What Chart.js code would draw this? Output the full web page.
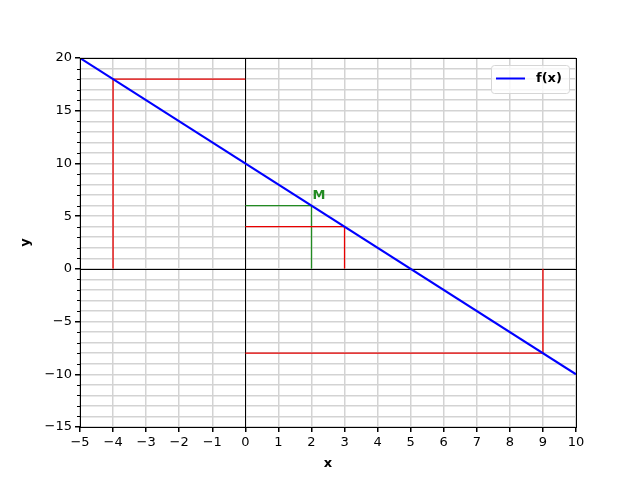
<!DOCTYPE html>
<html>
<head>
<meta charset="utf-8">
<script src="https://cdn.jsdelivr.net/npm/chart.js@4/dist/chart.umd.min.js"></script>
<style>
  html, body { margin: 0; padding: 0; background: #fff; }
  #wrap { width: 640px; height: 480px; }
</style>
</head>
<body>
<div id="wrap"><canvas id="plot" width="640" height="480"></canvas></div>
<script>
// line f(x) = 10 - 2x, drawn between the plot edges
const fxX = [-5, 10];
const fxY = [20, -10];

// construction lines (x list, y list)
const redAX = [-4, -4, 0];
const redAY = [0, 18, 18];
const redBX = [3, 3, 0];
const redBY = [0, 4, 4];
const redCX = [9, 9, 0];
const redCY = [0, -8, -8];
const greenX = [2, 2, 0];
const greenY = [0, 6, 6];

// point label
const labelM = { x: 2, y: 6, text: 'M' };

// axis limits
const xLimits = [-5, 10];
const yLimits = [-15, 20];

const toPts = (xs, ys) => xs.map((x, i) => ({ x: x, y: ys[i] }));
const FONT = 'DejaVu Sans';

const extras = {
  id: 'extras',
  beforeDatasetsDraw(chart) {
    // black lines through the origin
    const c = chart.ctx;
    const a = chart.chartArea;
    const xs = chart.scales.x, ys = chart.scales.y;
    const px = Math.round(xs.getPixelForValue(0)) + 0.5;
    const py = Math.round(ys.getPixelForValue(0)) + 0.5;
    c.save();
    c.strokeStyle = '#000';
    c.lineWidth = 1;
    c.beginPath();
    c.moveTo(px, a.top);
    c.lineTo(px, a.bottom);
    c.moveTo(a.left, py);
    c.lineTo(a.right, py);
    c.stroke();
    c.restore();
  },
  afterDraw(chart) {
    const c = chart.ctx;
    const a = chart.chartArea;
    const xs = chart.scales.x, ys = chart.scales.y;
    c.save();
    // frame (top and right spines too)
    c.strokeStyle = '#000';
    c.lineWidth = 1;
    c.strokeRect(Math.round(a.left) + 0.5, Math.round(a.top) + 0.5,
      Math.round(a.right - a.left), Math.round(a.bottom - a.top));
    // minor y ticks
    for (let v = yLimits[0]; v <= yLimits[1]; v++) {
      if (v % 5 === 0) continue;
      const py = Math.round(ys.getPixelForValue(v)) + 0.5;
      c.beginPath();
      c.moveTo(a.left, py);
      c.lineTo(a.left - 3, py);
      c.stroke();
    }
    // label M
    c.fillStyle = 'forestgreen';
    c.font = 'bold 13px ' + FONT;
    c.textAlign = 'left';
    c.textBaseline = 'bottom';
    c.fillText(labelM.text, xs.getPixelForValue(labelM.x) + 1, ys.getPixelForValue(labelM.y) - 3);
    // legend
    const ds = chart.data.datasets[0];
    const bx = 491, by = 65, bw = 78, bh = 28;
    c.beginPath();
    c.roundRect(bx + 0.5, by + 0.5, bw, bh, 3);
    c.fillStyle = 'rgba(255,255,255,0.8)';
    c.fill();
    c.strokeStyle = '#d6d6d6';
    c.stroke();
    c.beginPath();
    c.strokeStyle = ds.borderColor;
    c.lineWidth = 2;
    c.moveTo(496, 78.5);
    c.lineTo(525, 78.5);
    c.stroke();
    c.fillStyle = '#000';
    c.textBaseline = 'middle';
    c.fillText(ds.label, 536, 79);
    c.restore();
  }
};

const gridColor = '#d3d3d3';

new Chart(document.getElementById('plot'), {
  type: 'scatter',
  data: {
    datasets: [
      { label: 'f(x)', data: toPts(fxX, fxY), borderColor: 'blue', borderWidth: 2, showLine: true, pointRadius: 0 },
      { label: 'a', data: toPts(redAX, redAY), borderColor: '#e80000', borderWidth: 1.3, showLine: true, pointRadius: 0 },
      { label: 'b', data: toPts(redBX, redBY), borderColor: '#e80000', borderWidth: 1.3, showLine: true, pointRadius: 0 },
      { label: 'c', data: toPts(redCX, redCY), borderColor: '#e80000', borderWidth: 1.3, showLine: true, pointRadius: 0 },
      { label: 'M', data: toPts(greenX, greenY), borderColor: '#228b22', borderWidth: 1.3, showLine: true, pointRadius: 0 }
    ]
  },
  options: {
    responsive: false,
    animation: false,
    layout: { padding: { left: 0, top: 58, right: 64, bottom: 0 } },
    plugins: { legend: { display: false }, tooltip: { enabled: false } },
    scales: {
      x: {
        type: 'linear',
        min: xLimits[0],
        max: xLimits[1],
        afterFit: s => { s.height = 53; },
        ticks: {
          stepSize: 1,
          color: '#000',
          font: { family: FONT, size: 13 },
          padding: 3,
          maxRotation: 0,
          autoSkip: false,
          callback: v => String(v).replace('-', '\u2212')
        },
        grid: { color: gridColor, lineWidth: 1.5, tickColor: '#000', tickLength: 5 },
        border: { display: false },
        title: { display: true, text: 'x', color: '#000', font: { family: FONT, size: 13, weight: 'bold' }, padding: { top: 2, bottom: 9 } }
      },
      y: {
        type: 'linear',
        min: yLimits[0],
        max: yLimits[1],
        afterFit: s => { s.width = 80; },
        ticks: {
          stepSize: 1,
          color: '#000',
          font: { family: FONT, size: 13 },
          padding: 3,
          autoSkip: false,
          callback: v => v % 5 === 0 ? String(v).replace('-', '\u2212') : ''
        },
        grid: {
          color: gridColor,
          lineWidth: 1.5,
          tickColor: ctx => ctx.tick && ctx.tick.value % 5 === 0 ? '#000' : 'rgba(0,0,0,0)',
          tickLength: 5
        },
        border: { display: false },
        title: { display: true, text: 'y', color: '#000', font: { family: FONT, size: 13, weight: 'bold' }, padding: { top: 18, bottom: 0 } }
      }
    }
  },
  plugins: [extras]
});
</script>
</body>
</html>
